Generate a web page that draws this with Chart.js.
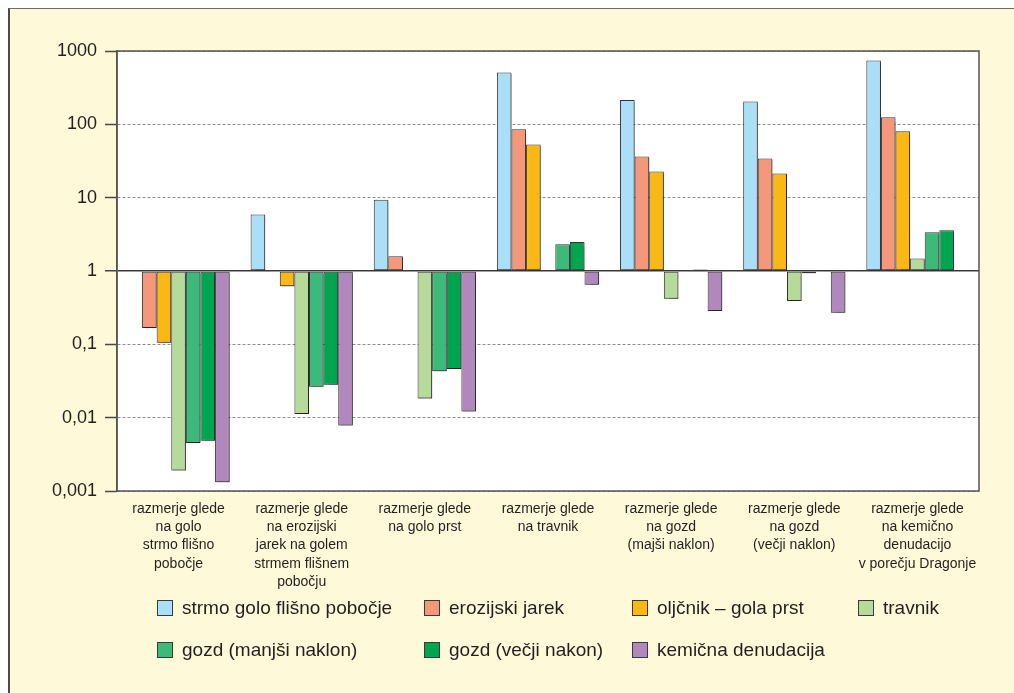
<!DOCTYPE html>
<html>
<head>
<meta charset="utf-8">
<script src="https://cdn.jsdelivr.net/npm/chart.js@4/dist/chart.umd.min.js"></script>
<style>
  html, body { margin: 0; padding: 0; background: #ffffff; }
  #page { position: relative; width: 1014px; height: 693px; overflow: hidden; font-family: "Liberation Sans", Arial, sans-serif; }
  #frame {
    position: absolute; left: 8px; top: 8px; width: 1030px; height: 720px;
    background: #fef9d8; border-left: 2px solid #4d4b47; border-top: 1px solid #6f6d68;
  }
  #wrap { position: absolute; left: 0; top: 0; width: 1014px; height: 693px; }
  #legend {
    position: absolute; left: 157px; top: 587px;
    display: grid; grid-template-columns: 267px 208px 226px auto; grid-auto-rows: 42px;
    color: #231f20; font-size: 19px;
  }
  .item { display: flex; align-items: center; white-space: nowrap; }
  .box { width: 14px; height: 14px; border: 1px solid #3a3a3a; margin-right: 9px; flex: none; }
</style>
</head>
<body>
<div id="page">
  <div id="frame"></div>
  <div id="wrap"><canvas id="chart"></canvas></div>
  <div id="legend"></div>
</div>
<script>
const categories = [
  ['razmerje glede', 'na golo', 'strmo flišno', 'pobočje'],
  ['razmerje glede', 'na erozijski', 'jarek na golem', 'strmem flišnem', 'pobočju'],
  ['razmerje glede', 'na golo prst'],
  ['razmerje glede', 'na travnik'],
  ['razmerje glede', 'na gozd', '(majši naklon)'],
  ['razmerje glede', 'na gozd', '(večji naklon)'],
  ['razmerje glede', 'na kemično', 'denudacijo', 'v porečju Dragonje'],
];

const seriesLabels = [
  'strmo golo flišno pobočje',
  'erozijski jarek',
  'oljčnik – gola prst',
  'travnik',
  'gozd (manjši naklon)',
  'gozd (večji nakon)',
  'kemična denudacija',
];
const seriesColors = ['#abdff8', '#f4977a', '#fbb714', '#b6da9a', '#3dba7a', '#00a550', '#b088bd'];

const strmoGolo = [null, 5.9, 9.4, 509, 215, 205, 742];
const erozijskiJarek = [0.167, null, 1.59, 86, 36.4, 34.1, 125];
const oljcnik = [0.105, 0.62, null, 53, 22.7, 21.3, 80.5];
const travnik = [0.0019, 0.0112, 0.0183, null, 0.42, 0.39, 1.48];
const gozdManjsi = [0.0045, 0.0265, 0.043, 2.31, null, 0.93, 3.37];
const gozdVecji = [0.00485, 0.0282, 0.046, 2.49, 1.05, null, 3.59];
const kemicna = [0.00132, 0.0078, 0.0121, 0.65, 0.285, 0.27, null];
const seriesData = [strmoGolo, erozijskiJarek, oljcnik, travnik, gozdManjsi, gozdVecji, kemicna];

const tickValues = [0.001, 0.01, 0.1, 1, 10, 100, 1000];
const tickLabels = ['0,001', '0,01', '0,1', '1', '10', '100', '1000'];

// html legend, laid out in fixed columns like the original
const legendEl = document.getElementById('legend');
seriesLabels.forEach((label, i) => {
  const item = document.createElement('div');
  item.className = 'item';
  const box = document.createElement('span');
  box.className = 'box';
  box.style.background = seriesColors[i];
  const text = document.createElement('span');
  text.textContent = label;
  item.appendChild(box);
  item.appendChild(text);
  legendEl.appendChild(item);
});

const plotBox = {
  id: 'plotBox',
  beforeDraw(chart) {
    const { ctx, chartArea } = chart;
    ctx.save();
    ctx.fillStyle = '#ffffff';
    ctx.fillRect(chartArea.left, chartArea.top, chartArea.width, chartArea.height);
    ctx.restore();
  },
  beforeDatasetsDraw(chart) {
    const ctx = chart.ctx;
    ctx.save();
    ctx.shadowColor = 'rgba(0,0,0,0.35)';
    ctx.shadowOffsetX = 1.5;
    ctx.shadowOffsetY = 1.5;
    ctx.shadowBlur = 1;
  },
  afterDatasetsDraw(chart) {
    chart.ctx.restore();
  },
  afterDraw(chart) {
    const { ctx, chartArea } = chart;
    ctx.save();
    ctx.strokeStyle = '#555350';
    ctx.lineWidth = 1.5;
    ctx.strokeRect(chartArea.left, chartArea.top, chartArea.width, chartArea.height);
    ctx.restore();
  },
};

new Chart(document.getElementById('chart'), {
  type: 'bar',
  data: {
    labels: categories,
    datasets: seriesData.map((data, i) => ({
      label: seriesLabels[i],
      data,
      base: 1,
      backgroundColor: seriesColors[i],
      borderColor: '#333333',
      borderWidth: 1,
      borderSkipped: false,
      categoryPercentage: 0.83,
      barPercentage: 1,
    })),
  },
  options: {
    responsive: true,
    maintainAspectRatio: false,
    animation: false,
    layout: {
      padding: { left: 8, top: 51, right: 35, bottom: 92 },
    },
    plugins: {
      legend: { display: false },
      tooltip: { enabled: false },
    },
    scales: {
      x: {
        grid: { display: false, drawTicks: false },
        border: { display: false },
        ticks: {
          color: '#231f20',
          padding: 9,
          maxRotation: 0,
          autoSkip: false,
          font: { family: '"Liberation Sans", Arial, sans-serif', size: 14, lineHeight: 1.3 },
        },
        afterFit(scale) {
          scale.height = 110;
        },
      },
      y: {
        type: 'logarithmic',
        min: 0.001,
        max: 1000,
        afterBuildTicks(scale) {
          scale.ticks = tickValues.map((value) => ({ value }));
        },
        afterFit(scale) {
          scale.width = 109;
        },
        ticks: {
          color: '#231f20',
          padding: 8,
          font: { family: '"Liberation Sans", Arial, sans-serif', size: 18 },
          callback(value) {
            const idx = tickValues.indexOf(value);
            return idx >= 0 ? tickLabels[idx] : '';
          },
        },
        grid: {
          color: (ctx) => (ctx.tick && ctx.tick.value === 1 ? '#3c3a37' : '#8c8c8c'),
          lineWidth: (ctx) => (ctx.tick && ctx.tick.value === 1 ? 1.5 : 1),
          tickLength: 12,
          tickColor: '#4a4845',
          tickWidth: 1.5,
        },
        border: {
          color: '#555350',
          width: 1.5,
          dash: (ctx) => (ctx.tick && ctx.tick.value !== 1 ? [3, 2] : []),
        },
      },
    },
  },
  plugins: [plotBox],
});
</script>
</body>
</html>
